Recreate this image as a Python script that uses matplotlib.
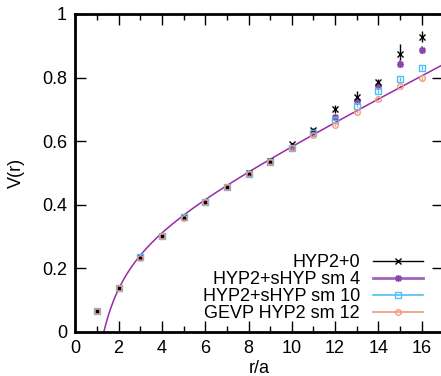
import matplotlib
matplotlib.use('Agg')
import matplotlib.pyplot as plt
import numpy as np
from matplotlib.ticker import MultipleLocator, FormatStrFormatter

plt.rcParams['font.family'] = ['Liberation Sans', 'DejaVu Sans']

r = np.arange(1, 17)
# potential values
v_hyp0 = [0.066, 0.136, 0.234, 0.302, 0.360, 0.409, 0.456, 0.498, 0.537, 0.590,
          0.636, 0.700, 0.738, 0.785, 0.874, 0.929]
e_hyp0 = [0.002, 0.002, 0.002, 0.002, 0.002, 0.002, 0.003, 0.003, 0.004, 0.005,
          0.006, 0.013, 0.020, 0.010, 0.030, 0.016]
v_sm4 = [0.066, 0.136, 0.234, 0.302, 0.360, 0.409, 0.456, 0.498, 0.536, 0.580,
         0.628, 0.677, 0.727, 0.774, 0.842, 0.886]
e_sm4 = [0.002, 0.002, 0.002, 0.002, 0.002, 0.002, 0.002, 0.002, 0.003, 0.003,
         0.004, 0.005, 0.006, 0.006, 0.013, 0.012]
v_sm10 = [0.066, 0.136, 0.234, 0.302, 0.360, 0.409, 0.456, 0.497, 0.535, 0.578,
          0.624, 0.667, 0.710, 0.757, 0.796, 0.830]
e_sm10 = [0.001, 0.001, 0.001, 0.001, 0.002, 0.002, 0.002, 0.002, 0.002, 0.003,
          0.003, 0.004, 0.004, 0.005, 0.006, 0.005]
v_gevp = [0.066, 0.136, 0.233, 0.301, 0.359, 0.408, 0.455, 0.497, 0.535, 0.577,
          0.619, 0.650, 0.691, 0.734, 0.773, 0.797]
e_gevp = [0.001, 0.001, 0.001, 0.001, 0.001, 0.001, 0.002, 0.002, 0.002, 0.002,
          0.003, 0.003, 0.003, 0.004, 0.004, 0.004]

# Cornell fit V = c + s*r - a/r
fit_c, fit_s, fit_a = 0.280, 0.0345, 0.43

fig = plt.figure(figsize=(4.41, 3.76), dpi=100)
ax = fig.add_axes([0.1707, 0.1178, 0.8347, 0.845])

ax.errorbar(r, v_hyp0, yerr=e_hyp0, fmt='x', color='black', ms=4.5, mew=1,
            elinewidth=1, capsize=0, label='HYP2+0')
ax.errorbar(r, v_sm4, yerr=e_sm4, fmt='none', color='#a066bb', elinewidth=1.2, capsize=0)
ax.plot(r, v_sm4, ls='none', marker=(8, 2, 0), color='#8e44ad', ms=5, mew=1.1)
ax.errorbar(r, v_sm10, yerr=e_sm10, fmt='s', color='#4fc0f0', ms=4, mew=1,
            mfc='none', elinewidth=1, capsize=0)
ax.errorbar(r, v_gevp, yerr=e_gevp, fmt='o', color='#f29a7c', ms=4, mew=1,
            mfc='none', elinewidth=1, capsize=0)

rr = np.linspace(1.0, 17, 300)
ax.plot(rr, fit_c + fit_s * rr - fit_a / rr, color='#9a2aa8', lw=1.1)

# legend handles in gnuplot style
h = [
    plt.Line2D([], [], color='black', marker='x', ms=4, lw=1),
    plt.Line2D([], [], color='#a066bb', marker=(8, 2, 0), mec='#8e44ad', ms=5, lw=2),
    plt.Line2D([], [], color='#4fc0f0', marker='s', mfc='none', ms=4, lw=1.2),
    plt.Line2D([], [], color='#f29a7c', marker='o', mfc='none', ms=4, lw=1.2),
]
labels = ['HYP2+0', 'HYP2+sHYP sm 4', 'HYP2+sHYP sm 10', 'GEVP HYP2 sm 12']
ax.legend(h, labels, loc='lower right', bbox_to_anchor=(0.945, 0.03),
          frameon=False, markerfirst=False, fontsize=13, handlelength=2.8,
          handletextpad=0.7, labelspacing=0.0, borderpad=0, borderaxespad=0)

ax.set_xlim(0, 17)
ax.set_ylim(0, 1)
ax.xaxis.set_major_locator(MultipleLocator(2))
ax.xaxis.set_minor_locator(MultipleLocator(1))
ax.yaxis.set_major_locator(MultipleLocator(0.2))
ax.yaxis.set_major_formatter(FormatStrFormatter('%g'))
ax.tick_params(which='both', direction='in', top=True, right=True, labelsize=13)
ax.tick_params(which='major', length=8, width=1)
ax.tick_params(which='minor', length=4, width=1)
ax.tick_params(axis='x', pad=6)
ax.tick_params(axis='y', pad=6)
for s in ax.spines.values():
    s.set_linewidth(1.2)
ax.spines['left'].set_linewidth(2)
ax.spines['bottom'].set_linewidth(2)
ax.spines['top'].set_linewidth(2)

ax.set_xlabel('r/a', fontsize=13, labelpad=2)
ax.set_ylabel('V(r)', fontsize=13, labelpad=12)

fig.savefig('out.png', dpi=100)
